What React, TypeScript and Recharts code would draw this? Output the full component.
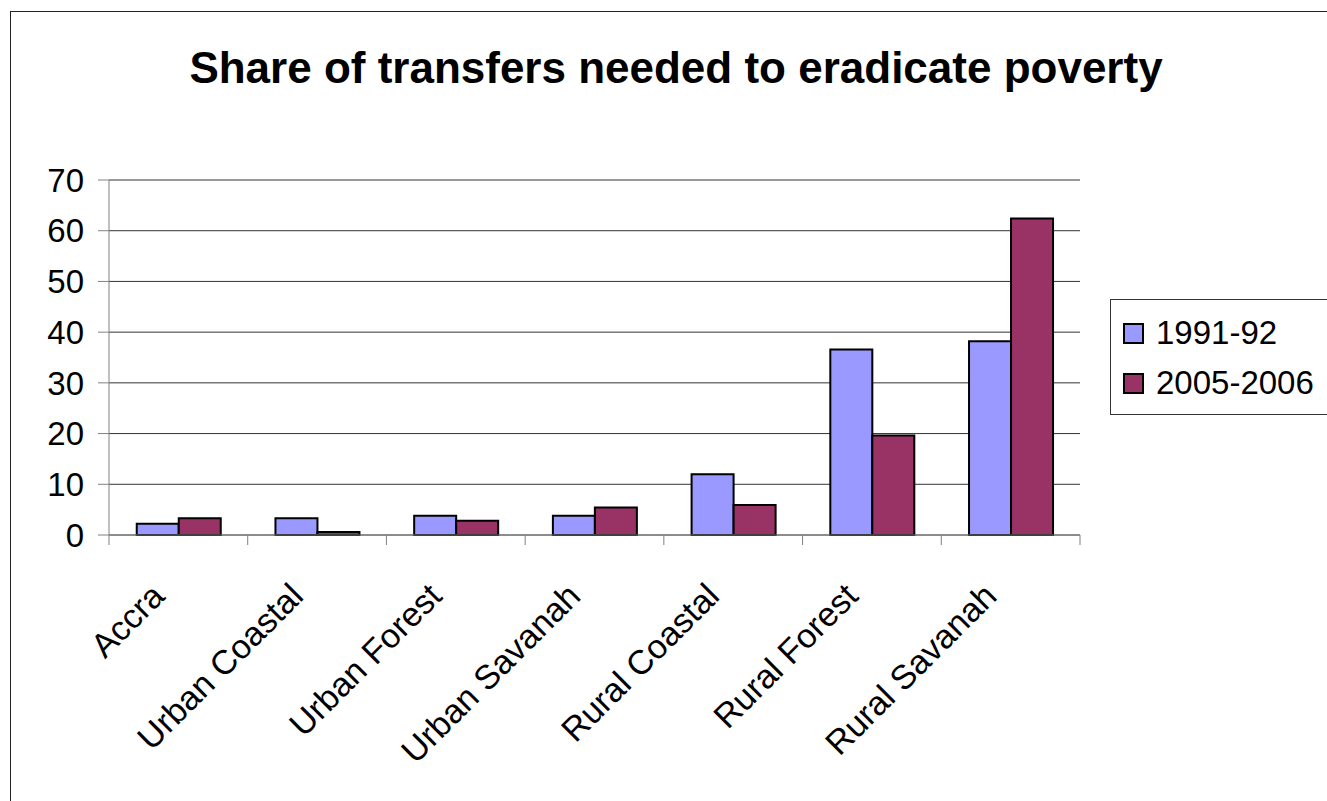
import { BarChart, Bar, XAxis, YAxis, CartesianGrid } from 'recharts';

const regions = ['Accra', 'Urban Coastal', 'Urban Forest', 'Urban Savanah', 'Rural Coastal', 'Rural Forest', 'Rural Savanah'];
const share1991 = [2.2, 3.3, 3.8, 3.8, 12.0, 36.6, 38.2];
const share2005 = [3.3, 0.6, 2.8, 5.4, 5.9, 19.6, 62.4];
const yTicks = [0, 10, 20, 30, 40, 50, 60, 70];

const series = [
  { key: 'p1991', label: '1991-92', color: '#9999FF' },
  { key: 'p2005', label: '2005-2006', color: '#993366' },
];

const data = regions.map((name, i) => ({ name, p1991: share1991[i], p2005: share2005[i] }));

const FONT = '"Liberation Sans", Arial, sans-serif';
const TICK = 10;

// category label rotated -45deg, plus tick marks on the category boundaries
function SlantedTick({ x, y, payload, index, visibleTicksCount, width }: any) {
  const band = payload && payload.offset ? payload.offset * 2 : width / visibleTicksCount;
  const left = x - band / 2;
  const ax = x - 12;
  const ay = y + 53;
  return (
    <g>
      <line x1={left} x2={left} y1={y - TICK} y2={y} stroke="#808080" />
      {index === visibleTicksCount - 1 && (
        <line x1={left + band} x2={left + band} y1={y - TICK} y2={y} stroke="#808080" />
      )}
      <text
        x={ax}
        y={ay}
        transform={`rotate(-45 ${ax} ${ay})`}
        textAnchor="end"
        fontSize={34}
        fontFamily={FONT}
        fill="#000"
      >
        {payload.value}
      </text>
    </g>
  );
}

export default function App() {
  return (
    <div style={{ position: 'fixed', left: 0, top: 0, width: 1327, height: 801, overflow: 'hidden', background: '#fff' }}>
      <div style={{ position: 'absolute', left: 10, top: 11, width: 1400, height: 900, borderLeft: '1.5px solid #222', borderTop: '1.5px solid #222' }} />
      <div style={{ position: 'absolute', left: 0, top: 46, width: 1352, textAlign: 'center', fontFamily: FONT, fontWeight: 'bold', fontSize: 44, lineHeight: '44px', color: '#000' }}>
        Share of transfers needed to eradicate poverty
      </div>
      <div style={{ position: 'absolute', left: 0, top: 0 }}>
        <BarChart
          width={1327}
          height={801}
          data={data}
          margin={{ top: 180, right: 247, bottom: 0, left: 0 }}
          barCategoryGap="20%"
          barGap={0}
        >
          <CartesianGrid vertical={false} stroke="#333" />
          <XAxis
            dataKey="name"
            stroke="#808080"
            tickLine={false}
            tickSize={TICK}
            tickMargin={0}
            interval={0}
            height={266}
            tick={<SlantedTick />}
          />
          <YAxis
            domain={[0, 70]}
            ticks={yTicks}
            interval={0}
            width={109}
            tickSize={11}
            tickMargin={14}
            stroke="#808080"
            tick={{ fill: '#000', fontSize: 33, fontFamily: FONT }}
          />
          {series.map((s) => (
            <Bar key={s.key} dataKey={s.key} name={s.label} fill={s.color} stroke="#000" strokeWidth={2} isAnimationActive={false} />
          ))}
        </BarChart>
      </div>
      <div style={{ position: 'absolute', left: 1110, top: 299, width: 240, height: 116, boxSizing: 'border-box', border: '1.5px solid #333', padding: '8px 0 0 12px', background: '#fff' }}>
        {series.map((s) => (
          <div key={s.key} style={{ display: 'flex', alignItems: 'center', height: 50, fontSize: 33, fontFamily: FONT, color: '#000' }}>
            <span style={{ width: 17, height: 17, background: s.color, border: '2px solid #000', marginRight: 12, display: 'inline-block' }} />
            {s.label}
          </div>
        ))}
      </div>
    </div>
  );
}
